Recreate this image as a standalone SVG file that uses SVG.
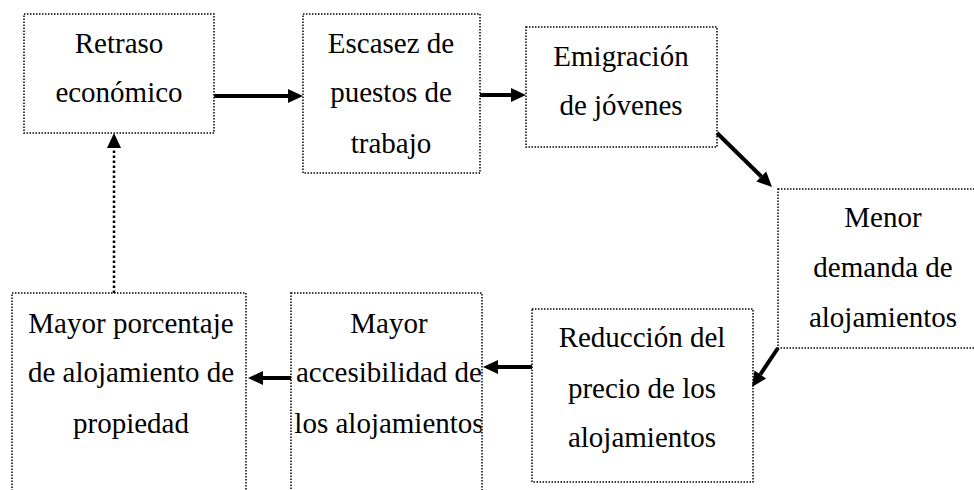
<svg xmlns="http://www.w3.org/2000/svg" width="974" height="490" viewBox="0 0 974 490">
<style>
.box{fill:#fff;stroke:#000;stroke-width:1.5;stroke-dasharray:1.5 1.5}
.c{stroke:#000;stroke-width:4;fill:none}
.d{stroke:#000;stroke-width:2.5;stroke-dasharray:2.5 2.5;fill:none}
</style>
<defs>
<marker id="ah" markerUnits="userSpaceOnUse" markerWidth="15" markerHeight="14" refX="0" refY="7" orient="auto" overflow="visible">
<path d="M0,0 L15,7 L0,14 z" fill="#000"/>
</marker>
<clipPath id="clip6"><rect x="291" y="293" width="190.5" height="210"/></clipPath>
</defs>
<rect width="974" height="490" fill="#fff"/>
<g font-family="'Liberation Serif', 'Times New Roman', serif" font-size="29" fill="#000" text-anchor="middle">
<g id="n1"><rect class="box" x="24" y="14" width="190" height="119"/>
<text x="119" y="53">Retraso</text><text x="119" y="102">económico</text></g>
<g id="n2"><rect class="box" x="303" y="14" width="177" height="159"/>
<text x="391" y="53">Escasez de</text><text x="391" y="102">puestos de</text><text x="391" y="153">trabajo</text></g>
<g id="n3"><rect class="box" x="526" y="27" width="191" height="120"/>
<text x="621" y="66">Emigración</text><text x="621" y="115">de jóvenes</text></g>
<g id="n4"><rect class="box" x="778" y="189" width="215" height="159"/>
<text x="883" y="227">Menor</text><text x="883" y="277">demanda de</text><text x="883" y="327">alojamientos</text></g>
<g id="n5"><rect class="box" x="532" y="309" width="221" height="173"/>
<text x="642" y="347">Reducción del</text><text x="642" y="398">precio de los</text><text x="642" y="447">alojamientos</text></g>
<g id="n6"><rect class="box" x="291" y="293" width="191" height="210"/>
<g clip-path="url(#clip6)"><text x="389" y="333">Mayor</text><text x="389" y="382">accesibilidad de</text><text x="389" y="433">los alojamientos</text></g></g>
<g id="n7"><rect class="box" x="12" y="293" width="234" height="210"/>
<text x="131" y="333">Mayor porcentaje</text><text x="131" y="382">de alojamiento de</text><text x="131" y="433">propiedad</text></g>
</g>
<g id="connectors">
<line class="c" x1="214" y1="96" x2="288" y2="96" marker-end="url(#ah)"/>
<line class="c" x1="480" y1="95" x2="511" y2="95" marker-end="url(#ah)"/>
<line class="c" x1="717" y1="133" x2="761.3" y2="176.5" marker-end="url(#ah)"/>
<line class="c" x1="778" y1="348" x2="760.3" y2="374.5" marker-end="url(#ah)"/>
<line class="c" x1="532" y1="367" x2="498" y2="367" marker-end="url(#ah)"/>
<line class="c" x1="291" y1="378" x2="263" y2="378" marker-end="url(#ah)"/>
<line class="d" x1="114" y1="293" x2="114" y2="148" marker-end="url(#ah)"/>
</g>
</svg>
